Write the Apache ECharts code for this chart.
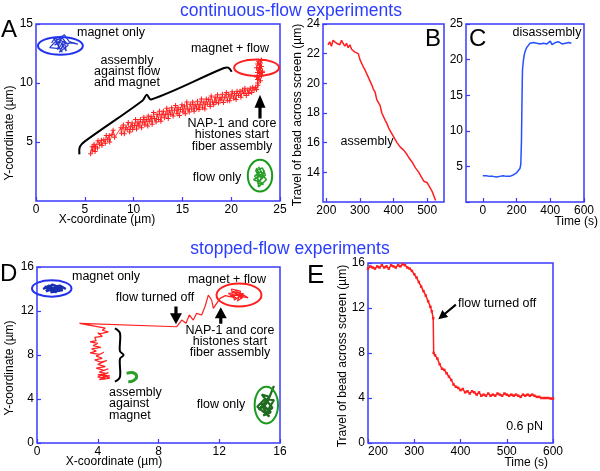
<!DOCTYPE html>
<html><head><meta charset="utf-8">
<script src="https://cdn.jsdelivr.net/npm/echarts@6/dist/echarts.min.js"></script>
<style>html,body{margin:0;padding:0;background:#fff}#c{width:600px;height:471px}</style>
</head><body><div id="c"></div><script>
// ---------------- data ----------------
// Panel A (continuous flow, XY trajectory, µm)
const aAssembly = [[5.6,4.0],[5.75,4.6],[5.8,4.3],[5.95,4.8],[6.05,4.2],[6.1,4.6],[6.3,4.5],[6.35,5.1],[6.5,4.8],[6.7,5.15],[6.75,4.7],[6.95,5.2],[7.1,4.9],[7.2,5.55],[7.35,5.2],[7.5,5.55],[7.55,5.0],[7.8,5.65],[7.9,6.0],[8.05,5.4],[8.7,6.2],[8.75,5.75],[8.95,6.45],[9.05,5.7],[9.2,6.2],[9.35,6.05],[9.45,6.65],[9.6,5.85],[9.7,6.3],[9.85,6.6],[9.9,6.05],[10.1,6.4],[10.2,6.9],[10.3,6.1],[10.45,6.7],[10.55,6.35],[10.7,6.9],[10.8,6.2],[10.95,6.7],[11.05,7.1],[11.15,6.45],[11.3,6.9],[11.45,6.35],[11.5,7.2],[11.65,6.75],[11.8,7.15],[11.9,6.5],[12.05,7.5],[12.15,7.0],[12.3,6.7],[12.4,7.35],[12.55,6.9],[12.65,7.6],[12.8,6.75],[12.9,7.3],[13.05,7.6],[13.15,7.05],[13.3,7.35],[13.4,7.85],[13.55,7.0],[13.65,7.65],[13.8,7.35],[13.9,7.9],[14.05,7.2],[14.2,7.7],[14.3,8.1],[14.45,7.4],[14.55,7.9],[14.7,7.25],[14.8,7.75],[14.95,8.15],[15.05,7.55],[15.2,8.05],[15.3,7.4],[15.45,8.4],[15.55,7.8],[15.7,7.55],[15.8,8.2],[15.95,7.8],[16.05,8.4],[16.2,7.6],[16.3,8.15],[16.45,7.85],[16.55,8.45],[16.7,7.75],[16.8,8.15],[16.95,8.65],[17.05,7.9],[17.2,8.4],[17.3,7.8],[17.45,8.65],[17.55,8.2],[17.7,8.6],[17.85,8.0],[17.95,8.9],[18.1,8.4],[18.2,8.15],[18.35,8.8],[18.45,8.35],[18.6,9.0],[18.7,8.3],[18.85,8.75],[18.95,8.55],[19.1,9.05],[19.2,8.35],[19.35,8.8],[19.5,9.2],[19.6,8.5],[19.75,9.05],[19.85,8.5],[20.0,8.9],[20.1,9.25],[20.25,8.7],[20.35,9.1],[20.5,8.6],[20.6,9.3],[20.75,8.95],[20.9,9.3],[21.0,8.8],[21.15,9.4],[21.3,9.1],[21.4,9.55],[21.55,8.95],[21.7,9.4],[21.8,9.1],[21.95,9.55],[22.1,9.2],[22.2,9.65],[22.35,9.4],[22.5,9.65],[22.6,9.45],[22.75,9.8],[22.7,10.0],[23.0,10.2],[22.8,10.4],[22.6,10.5],[23.1,10.6],[22.9,10.8],[22.7,10.9],[23.2,11.0],[22.8,11.1],[23.0,11.2],[22.6,11.3],[23.1,11.4],[22.9,11.5],[22.7,11.6],[23.0,11.7],[22.8,11.85],[23.1,11.95],[22.9,11.3],[23.2,10.9],[22.7,10.3]];
const aMagnetOnly = [[1.6,13.4],[2.0,13.9],[2.3,13.1],[2.6,14.0],[2.2,12.8],[2.9,13.6],[3.1,12.7],[2.5,13.5],[1.9,13.2],[2.7,13.8],[3.3,13.2],[2.4,12.6],[2.8,13.3],[3.6,13.4],[4.3,13.3],[3.4,13.5],[2.9,14.1],[2.1,13.6],[1.4,13.0],[2.6,12.9],[3.0,13.4],[2.3,13.7],[1.8,13.8],[2.7,12.6]];
const aFlowOnly = [[22.9,2.0],[22.5,2.6],[23.2,2.8],[23.5,2.2],[22.7,1.5],[23.3,1.4],[22.4,2.1],[23.0,2.5],[23.6,1.8],[22.8,1.2],[22.6,2.8],[23.1,1.9],[23.4,2.6],[22.9,1.6],[22.3,1.8],[23.2,2.3],[22.8,2.9]];

// Panel B (assembly, travel vs time)
const bTime = [205,210,215,220,225,230,235,240,245,250,255,260,265,270,275,280,285,290,295,300,305,310,315,320,325,330,335,340,345,350,355,360,365,370,375,380,385,390,395,400,405,410,415,420,425,430,435,440,445,450,455,460,465,470,475,480,485,490,495,500,505,510,515,520,525];
const bTravel = [22.6,22.8,22.5,22.9,23.0,22.7,22.8,22.6,22.9,22.7,22.5,22.7,22.4,22.6,22.3,22.4,22.1,22.2,22.0,21.6,21.5,21.1,20.9,20.8,20.4,20.3,19.9,19.6,19.4,18.9,18.7,18.5,18.0,17.9,17.5,17.3,17.0,16.8,16.6,16.5,16.2,16.0,16.1,15.7,15.6,15.5,15.4,15.2,15.0,14.9,14.7,14.5,14.3,14.2,14.0,13.8,13.7,13.4,13.3,13.3,13.1,12.9,12.7,12.8,12.1];
const bTicks = [200,300,400,500];

// Panel C (disassembly)
const cTime = [0,10,20,30,40,50,60,70,80,90,100,110,120,130,140,150,160,170,180,190,200,210,220,225,229,232,235,240,245,250,260,270,280,290,300,310,320,330,340,350,360,370,380,390,400,410,420,430,440,450,460,470,480,490,500,510,520,525];
const cTravel = [3.7,3.6,3.7,3.5,3.6,3.7,3.6,3.6,3.5,3.7,3.6,3.6,3.7,3.5,3.6,3.7,3.6,3.7,3.8,3.9,4.1,4.3,4.7,5.3,8.5,14.0,18.5,19.8,20.6,21.1,21.7,22.0,22.3,22.1,22.4,22.2,22.3,22.5,22.2,22.4,22.3,22.5,22.2,22.4,22.6,22.1,22.3,22.4,22.2,22.5,22.3,22.2,22.4,22.3,22.2,22.4,22.3,22.3];
const cTicks = [0,200,400,600];
const cYTicks = [5,10,15,20,25];

// Panel D (stopped flow, XY trajectory)
const dAssembly = [[13.3,13.4],[12.9,13.8],[13.5,13.1],[13.1,13.9],[12.7,13.3],[13.6,13.6],[13.0,13.0],[12.8,14.0],[13.4,13.8],[13.2,12.9],[13.7,13.4],[12.9,13.5],[13.9,13.2],[13.3,13.7],[12.6,13.6],[13.1,13.2],[12.4,13.4],[12.05,13.15],[11.83,12.7],[11.61,12.24],[11.5,13.0],[11.28,13.45],[11.06,12.39],[10.84,11.64],[10.51,11.79],[10.29,11.18],[10.03,11.64],[9.81,10.88],[9.53,11.18],[9.2,10.57],[2.8,10.88],[4.5,10.45],[4.3,10.25],[4.7,10.1],[4.2,9.95],[4.0,10.0],[4.3,9.7],[3.8,9.6],[3.9,9.3],[3.5,9.2],[4.0,9.05],[3.7,8.85],[4.2,8.7],[3.6,8.55],[3.9,8.35],[3.5,8.2],[4.1,8.05],[4.4,8.25],[3.9,7.9],[4.3,7.7],[3.8,7.55],[4.2,7.35],[4.6,7.5],[4.0,7.15],[4.5,6.95],[3.9,6.8],[4.4,6.6],[4.7,6.75],[4.1,6.45],[4.6,6.3],[4.0,6.2],[4.8,6.1],[4.2,5.95],[4.5,5.8],[4.0,6.0],[4.7,6.4],[4.3,6.15],[4.8,5.9],[4.1,5.75],[4.6,6.05]];
const dMagnetOnly = [[0.4,14.0],[0.8,14.3],[1.2,13.8],[1.6,14.1],[1.0,14.4],[0.6,13.8],[1.4,14.2],[0.9,13.7],[1.7,13.9],[1.1,14.1],[0.5,14.2],[1.3,13.7],[0.8,14.0],[1.5,14.3],[1.9,14.0]];
const dFlowOnly = [[15.0,3.5],[14.6,3.0],[15.3,4.2],[14.8,4.4],[15.5,3.2],[14.9,2.5],[15.4,2.8],[14.7,3.7],[15.2,3.0],[15.6,3.9],[15.0,4.0],[14.5,3.3],[15.3,2.4],[14.9,3.2],[15.2,3.8],[15.4,4.5],[15.6,5.2]];

// Panel E (stopped flow, travel vs time)
const eTime = [200,205,210,215,220,225,230,235,240,245,250,255,260,265,270,275,280,285,290,295,300,305,310,315,320,325,330,335,338,341,342,345,350,355,360,365,370,375,380,385,390,395,400,405,410,415,420,425,430,435,440,445,450,455,460,465,470,475,480,485,490,495,500,505,510,515,520,525,530,535,540,545,550,555,560,565,570,575,580,585,590,595,600];
const eTravel = [15.5,15.7,15.6,15.5,15.7,15.6,15.8,15.6,15.7,15.5,15.8,15.7,15.6,15.8,15.7,15.9,15.8,15.6,15.5,15.3,15.0,14.7,14.3,13.9,13.5,13.1,12.6,12.1,11.7,11.1,8.0,7.8,7.5,7.0,6.6,6.5,6.2,5.9,5.6,5.2,5.0,4.9,4.7,4.8,4.5,4.6,4.4,4.6,4.5,4.3,4.5,4.2,4.3,4.2,4.4,4.2,4.3,4.2,4.4,4.3,4.2,4.4,4.3,4.2,4.3,4.2,4.3,4.2,4.1,4.3,4.2,4.3,4.2,4.3,4.2,4.1,4.1,4.0,4.0,4.0,4.0,3.95,3.95];

// ---------------- styles ----------------
const FONT = 'Arial, "Liberation Sans", Helvetica, sans-serif';
const FRAME = '#3a3aff';
const TITLE = '#2a3dff';
const RED = '#ff1f1f';
const TRACE_BLUE = '#2450ff';
const GREEN = '#1a9a1a';
const DKGREEN = '#1f6b1f';
const PLUS = 'path://M2,0H3V2H5V3H3V5H2V3H0V2H2Z';

const zip = (xs, ys) => xs.map((x, i) => [x, ys[i]]);

const chart = echarts.init(document.getElementById('c'), null, {renderer: 'canvas'});

const grids = [
  {left: 36, top: 24, width: 244, height: 177},
  {left: 323, top: 24, width: 121, height: 178},
  {left: 466, top: 24, width: 118, height: 178},
  {left: 37, top: 267, width: 243, height: 176},
  {left: 368, top: 263, width: 185, height: 180}
].map(g => Object.assign({show: true, borderColor: FRAME, borderWidth: 1.5, backgroundColor: 'transparent', containLabel: false}, g));

function ax(gridIndex, min, max, interval, extra) {
  const a = {
    type: 'value', gridIndex, min, max,
    axisLine: {show: false, onZero: false},
    axisTick: {show: true, inside: true, length: 4, lineStyle: {color: FRAME, width: 1.2}},
    axisLabel: {color: '#000', fontSize: 12, fontFamily: FONT, margin: 3, hideOverlap: false},
    splitLine: {show: false}
  };
  if (interval != null) a.interval = interval;
  if (extra) {
    if (extra.label) Object.assign(a.axisLabel, extra.label);
    if (extra.tick) Object.assign(a.axisTick, extra.tick);
  }
  return a;
}

const xAxis = [
  ax(0, 0, 25, 5),
  ax(1, 190, 550, null, {label: {customValues: bTicks}, tick: {customValues: bTicks}}),
  ax(2, -100, 600, null, {label: {customValues: cTicks}, tick: {customValues: cTicks}}),
  ax(3, 0, 16, 4),
  ax(4, 200, 600, 100, {label: {alignMinLabel: 'left'}})
];
const yAxis = [
  ax(0, 0, 15, 5, {label: {showMinLabel: false}}),
  ax(1, 12, 24, 2, {label: {showMinLabel: false}}),
  // panel C tick labels are drawn below as text at the axis' own positions
  ax(2, 0, 25, 5, {label: {show: false}}),
  ax(3, 0, 16, 4),
  ax(4, 0, 16, 4)
];

function trace(idx, data, color, width, sym, symSize) {
  return {
    type: 'line', xAxisIndex: idx, yAxisIndex: idx, data,
    showSymbol: !!sym, symbol: sym || 'none', symbolSize: symSize || 0,
    itemStyle: {color}, lineStyle: {color, width},
    silent: true, animation: false, clip: true
  };
}

const series = [
  trace(0, aAssembly, RED, 0.9, PLUS, 5),
  trace(0, aMagnetOnly, '#2a3bd0', 1.2),
  trace(0, aFlowOnly, '#2aa02a', 1.6),
  trace(1, zip(bTime, bTravel), RED, 1.5),
  trace(2, zip(cTime, cTravel), TRACE_BLUE, 1.5),
  trace(3, dAssembly, RED, 1.2),
  trace(3, dMagnetOnly, '#1830b0', 2.5),
  trace(3, dFlowOnly, DKGREEN, 2.2),
  trace(4, zip(eTime, eTravel), RED, 1.5, 'rect', 2.5)
];

chart.setOption({animation: false, grid: grids, xAxis, yAxis, series});

// ---------------- annotations ----------------
const P = (g, x, y) => chart.convertToPixel({gridIndex: g}, [x, y]);

function arrowPts(tip, tail, headLen, headW, shaftW) {
  const dx = tip[0] - tail[0], dy = tip[1] - tail[1];
  const L = Math.hypot(dx, dy), ux = dx / L, uy = dy / L, nx = -uy, ny = ux;
  const bx = tip[0] - ux * headLen, by = tip[1] - uy * headLen;
  return [
    [tail[0] + nx * shaftW / 2, tail[1] + ny * shaftW / 2],
    [bx + nx * shaftW / 2, by + ny * shaftW / 2],
    [bx + nx * headW / 2, by + ny * headW / 2],
    tip,
    [bx - nx * headW / 2, by - ny * headW / 2],
    [bx - nx * shaftW / 2, by - ny * shaftW / 2],
    [tail[0] - nx * shaftW / 2, tail[1] - ny * shaftW / 2]
  ];
}
function arrow(g, tipD, tailD, headLen, headW, shaftW) {
  return {type: 'polygon', shape: {points: arrowPts(P(g, tipD[0], tipD[1]), P(g, tailD[0], tailD[1]), headLen, headW, shaftW)}, style: {fill: '#000'}, z: 10};
}
function ellipse(g, cx, cy, rx, ry, color) {
  const c = P(g, cx, cy), e = P(g, cx + rx, cy + ry);
  return {type: 'ellipse', shape: {cx: c[0], cy: c[1], rx: Math.abs(e[0] - c[0]), ry: Math.abs(e[1] - c[1])}, style: {fill: 'none', stroke: color, lineWidth: 2}, z: 10};
}
function brace(g, pts) {
  return {type: 'polyline', shape: {points: pts.map(p => P(g, p[0], p[1])), smooth: 0.35}, style: {stroke: '#000', lineWidth: 2, fill: 'none'}, z: 10};
}
function txt(text, x, y, opt) {
  opt = opt || {};
  return {type: 'text', x, y, rotation: opt.rot || 0, z: 20,
    style: {text, fill: opt.color || '#000', font: (opt.size || 12.5) + 'px ' + FONT,
      align: opt.align || 'center', verticalAlign: 'middle', lineHeight: opt.lh || 11.5}};
}

const cYLabels = cYTicks.map(v => {
  const p = P(2, -100, v);
  return txt(String(v), p[0] - 3, p[1], {size: 12, align: 'right'});
});

const graphic = cYLabels.concat([
  // titles
  txt('continuous-flow experiments', 291, 11, {size: 17.5, color: TITLE}),
  txt('stopped-flow experiments', 290, 249, {size: 17.5, color: TITLE}),
  // panel letters
  txt('A', 1, 30, {size: 24, align: 'left'}),
  txt('B', 425, 39, {size: 24, align: 'left'}),
  txt('C', 469, 39, {size: 24, align: 'left'}),
  txt('D', 0, 274, {size: 24, align: 'left'}),
  txt('E', 307, 276, {size: 26, align: 'left'}),
  // axis names
  txt('Y-coordinate (µm)', 10, 133, {size: 12, rot: Math.PI / 2}),
  txt('X-coordinate (µm)', 107, 220, {size: 12}),
  txt('Travel of bead across screen (µm)', 298, 115, {size: 12, rot: Math.PI / 2}),
  txt('Time (s)', 598, 222, {size: 12, align: 'right'}),
  txt('Y-coordinate (µm)', 10, 368, {size: 12, rot: Math.PI / 2}),
  txt('X-coordinate (µm)', 114, 462, {size: 12}),
  txt('Travel of bead across screen (µm)', 343, 356, {size: 12, rot: Math.PI / 2}),
  txt('Time (s)', 548, 463, {size: 12, align: 'right'}),
  // panel A annotations
  txt('magnet only', 77, 33, {align: 'left'}),
  txt('assembly\nagainst flow\nand magnet', 127, 72, {lh: 11}),
  txt('magnet + flow', 230, 49),
  txt('NAP-1 and core\nhistones start\nfiber assembly', 232, 135, {lh: 11.5}),
  txt('flow only', 217, 178),
  ellipse(0, 2.5, 13.15, 2.3, 0.75, '#2233ee'),
  ellipse(0, 22.6, 11.3, 2.3, 0.7, RED),
  ellipse(0, 22.95, 2.15, 1.25, 1.35, GREEN),
  arrow(0, [22.95, 9.0], [22.95, 7.0], 13, 11, 3.2),
  brace(0, [[4.45, 3.95], [4.5, 4.6], [5.0, 5.05], [10.9, 8.5], [11.35, 9.0], [11.8, 8.6], [19.2, 11.25], [19.7, 11.3], [20.05, 10.95]]),
  // panel B / C
  txt('assembly', 367, 142),
  txt('disassembly', 547, 33),
  // panel D annotations
  txt('magnet only', 72, 277, {align: 'left'}),
  txt('magnet + flow', 227, 280),
  txt('flow turned off', 155, 298),
  txt('NAP-1 and core\nhistones start\nfiber assembly', 230, 342, {lh: 11}),
  txt('assembly\nagainst\nmagnet', 109, 404, {align: 'left', lh: 11.5}),
  txt('flow only', 221, 405),
  ellipse(3, 0.97, 14.05, 1.3, 0.75, '#2233ee'),
  ellipse(3, 13.3, 13.45, 1.48, 1.05, RED),
  ellipse(3, 15.1, 3.45, 0.77, 1.67, GREEN),
  arrow(3, [9.15, 10.8], [9.15, 12.4], 11, 12, 3.2),
  arrow(3, [12.1, 12.34], [12.1, 10.85], 11, 12, 3.2),
  brace(3, [[5.13, 10.43], [5.46, 10.0], [5.46, 8.35], [5.7, 8.0], [5.46, 7.65], [5.46, 6.0], [5.13, 5.57]]),
  {type: 'polyline', z: 10, shape: {points: [[5.9, 6.33], [6.34, 6.39], [6.56, 6.03], [6.34, 5.66], [6.01, 5.57]].map(p => P(3, p[0], p[1])), smooth: 0.4}, style: {stroke: '#2aa02a', lineWidth: 3, fill: 'none'}},
  // panel E annotations
  txt('flow turned off', 458, 304, {align: 'left'}),
  txt('0.6 pN', 543, 427, {align: 'right'}),
  arrow(4, [352, 11.0], [390, 12.3], 9, 9, 2.2)
]);

chart.setOption({graphic});
</script></body></html>
